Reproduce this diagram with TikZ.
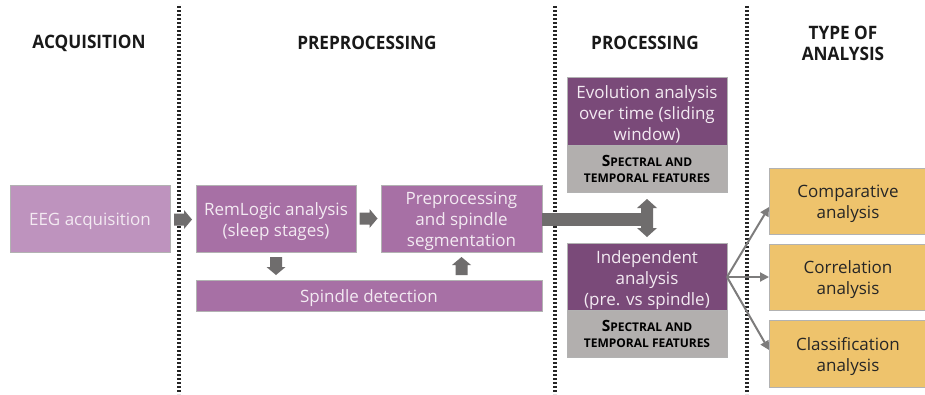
\documentclass[tikz,border=0pt]{standalone}
\usepackage{fontspec}
\setmainfont{Open Sans}
\newfontfamily\headfont{Open Sans}[FakeStretch=0.93]
\usetikzlibrary{arrows.meta,calc}
\definecolor{lightpurple}{HTML}{BE93BE}
\definecolor{midpurple}{HTML}{A770A5}
\definecolor{darkpurple}{HTML}{7A4A79}
\definecolor{featgray}{HTML}{B2AFAE}
\definecolor{anayellow}{HTML}{EEC36C}
\definecolor{arrgray}{HTML}{6F6D6D}
\definecolor{boxtext}{HTML}{F3EAF2}
\newcommand{\featuretext}{{\bfseries\fontsize{15.5}{18}\selectfont S\fontsize{12}{18}\selectfont PECTRAL AND}\\[-2pt]{\bfseries\fontsize{12}{18}\selectfont TEMPORAL FEATURES}}
\tikzset{
  x=1pt,y=-1pt,
  base/.style={rectangle,inner sep=0pt,outer sep=0pt,draw=gray!60,line width=0.7pt,align=center},
  boxlab/.style={inner sep=0pt,outer sep=0pt,align=center,yshift=-3pt,font=\fontsize{17}{21}\selectfont},
  txtw/.style={label={[boxlab,text=boxtext]center:{#1}}},
  txtk/.style={label={[boxlab,text=black!85]center:{#1}}},
  lightbox/.style={base,fill=lightpurple},
  midbox/.style={base,fill=midpurple},
  darkbox/.style={base,fill=darkpurple},
  featbox/.style={base,fill=featgray,text=black,minimum width=160pt,minimum height=47pt,font=\fontsize{12}{18}\selectfont},
  yelbox/.style={base,fill=anayellow,minimum width=158pt},
  header/.style={font=\headfont\bfseries\fontsize{18.5}{21}\selectfont,align=center,text=black!90},
  divider/.style={line width=3.2pt,dash pattern=on 2.2pt off 1.8pt,black!85},
  fan/.style={arrgray!90,line width=2pt,-{Triangle[length=9pt,width=9pt]}},
  pics/blockarrow/.style={code={
    \fill[arrgray] (-9,-6) -- (1,-6) -- (1,-9.5) -- (9,0) -- (1,9.5) -- (1,6) -- (-9,6) -- cycle;
  }}
}
\begin{document}
\begin{tikzpicture}
\useasboundingbox[fill=white] (0,0) rectangle (925,394);
% dividers
\coordinate (d1t) at (179,6); \coordinate (d1b) at (179,394);
\coordinate (d2t) at (555,6); \coordinate (d2b) at (555,394);
\coordinate (d3t) at (747,6); \coordinate (d3b) at (747,394);
\draw[divider] (d1t) -- (d1b);
\draw[divider] (d2t) -- (d2b);
\draw[divider] (d3t) -- (d3b);
% headers
\node[header] (h1) at (89,43) {ACQUISITION};
\node[header] (h2) at (367,43) {PREPROCESSING};
\node[header] (h3) at (645,43) {PROCESSING};
\node[header] (h4) at (843,43) {TYPE OF\\ANALYSIS};
% boxes
\node[lightbox,minimum width=160pt,minimum height=67pt,txtw={EEG acquisition}] (eeg) at (90,218.5) {};
\node[midbox,minimum width=160pt,minimum height=67pt,txtw={RemLogic analysis\\(sleep stages)}] (rem) at (276,218.5) {};
\node[midbox,minimum width=161pt,minimum height=67pt,txtw={Preprocessing\\and spindle\\segmentation}] (pre) at (461.5,218.5) {};
\node[midbox,minimum width=346pt,minimum height=31pt,txtw={Spindle detection}] (spd) at (369,295.5) {};
\node[darkbox,minimum width=160pt,minimum height=68pt,txtw={Evolution analysis\\over time (sliding\\window)}] (evo) at (647,111) {};
\node[featbox] (evof) at (647,168.5) {\featuretext};
\node[darkbox,minimum width=160pt,minimum height=68pt,txtw={Independent\\analysis\\(pre. vs spindle)}] (ind) at (647,277) {};
\node[featbox] (indf) at (647,334) {\featuretext};
\node[yelbox,minimum height=66pt,txtk={Comparative\\analysis}] (cmp) at (848,201) {};
\node[yelbox,minimum height=66pt,txtk={Correlation\\analysis}] (cor) at (848,277) {};
\node[yelbox,minimum height=67pt,txtk={Classification\\analysis}] (cls) at (848,353.5) {};
% block arrows
\pic at ($(eeg.east)!0.5!(rem.west)+(0,1)$) {blockarrow};
\pic at ($(rem.east)!0.5!(pre.west)$) {blockarrow};
\pic[rotate=-90] at ($(rem.south)!0.5!(rem.south|-spd.north)$) {blockarrow};
\pic[rotate=90] at ($(pre.south)!0.5!(pre.south|-spd.north)$) {blockarrow};
% big connector to processing
\coordinate (jn) at (647,219);
\fill[arrgray] (pre.east|-0,212.5) -- (647,212.5) -- (647,225.5) -- (pre.east|-0,225.5) -- cycle;
\fill[arrgray] (641,208) -- (641,228) -- (637,228) -- (647,237) -- (657,228) -- (653,228) -- (653,208) -- (657,208) -- (647,199) -- (637,208) -- cycle;
% fan arrows
\draw[fan] (ind.east) -- (cmp.west|-0,207);
\draw[fan] (ind.east) -- (cor.west);
\draw[fan] (ind.east) -- (cls.west|-0,350);
\end{tikzpicture}
\end{document}
